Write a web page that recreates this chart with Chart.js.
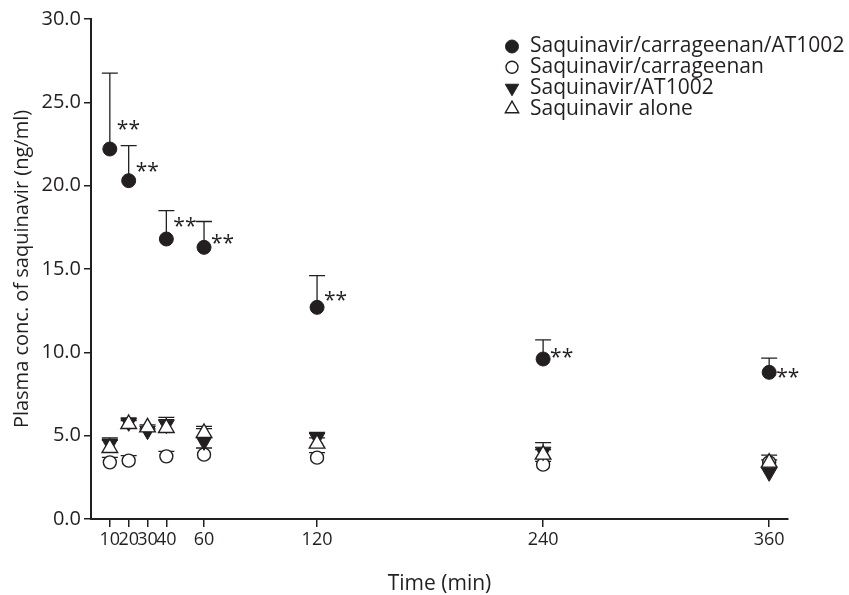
<!DOCTYPE html>
<html>
<head>
<meta charset="utf-8">
<script src="https://cdn.jsdelivr.net/npm/chart.js@4.4.1/dist/chart.umd.min.js"></script>
<style>
  html, body { margin: 0; padding: 0; background: #fff; }
  #wrap { width: 849px; height: 595px; position: relative; }
</style>
</head>
<body>
<div id="wrap"><canvas id="chart"></canvas></div>
<script>
const times = [10, 20, 30, 40, 60, 120, 240, 360];
const xTicks = [10, 20, 30, 40, 60, 120, 240, 360];
const yTicks = [0, 5, 10, 15, 20, 25, 30];

const seriesNames = ['Saquinavir/carrageenan/AT1002', 'Saquinavir/carrageenan', 'Saquinavir/AT1002', 'Saquinavir alone'];

// mean and upper SD (ng/ml), null = no point at that time
const carrAtMean = [22.2, 20.3, null, 16.8, 16.3, 12.7, 9.6, 8.8];
const carrAtSd   = [4.55, 2.1, null, 1.7, 1.55, 1.9, 1.15, 0.85];
const carrMean   = [3.4, 3.5, null, 3.76, 3.86, 3.68, 3.26, 3.4];
const carrSd     = [0.3, 0.3, null, 0.3, 0.4, 0.3, 0.2, 0.15];
const atMean     = [4.5, 5.8, 5.3, 5.66, 4.66, 4.89, 4.04, 2.8];
const atSd       = [0.36, 0.2, 0.1, 0.44, 0.76, 0.3, 0.54, 0.3];
const aloneMean  = [4.26, 5.7, 5.5, 5.46, 5.16, 4.52, 3.86, 3.38];
const aloneSd    = [0.46, 0.2, 0.15, 0.5, 0.4, 0.35, 0.3, 0.45];

// level of the "**" marks beside the carrageenan/AT1002 points
const starLevels = [23.7, 21.2, null, 17.9, 16.85, 13.45, 10.0, 8.85];

const ink = '#231f20';
Chart.defaults.font.family = '"Open Sans", "Noto Sans", sans-serif';
Chart.defaults.color = ink;

function series(vals) {
  return times.map(function (t, i) { return { x: t, y: vals[i] }; });
}

const errorBars = {
  id: 'errorBars',
  beforeDatasetsDraw(chart) {
    const ctx = chart.ctx;
    const xs = chart.scales.x, ys = chart.scales.y;
    ctx.save();
    ctx.strokeStyle = ink;
    ctx.lineWidth = 1.3;
    chart.data.datasets.forEach(function (ds) {
      ds.data.forEach(function (p, i) {
        const sd = ds.errors[i];
        if (p.y == null || sd == null) return;
        const px = xs.getPixelForValue(p.x);
        const y0 = ys.getPixelForValue(p.y);
        const y1 = ys.getPixelForValue(p.y + sd);
        ctx.beginPath();
        ctx.moveTo(px, y0);
        ctx.lineTo(px, y1);
        ctx.moveTo(px - 8, y1);
        ctx.lineTo(px + 8, y1);
        ctx.stroke();
      });
    });
    ctx.restore();
  }
};

const stars = {
  id: 'stars',
  afterDatasetsDraw(chart) {
    const ctx = chart.ctx;
    const xs = chart.scales.x, ys = chart.scales.y;
    ctx.save();
    ctx.font = '21px "Open Sans"';
    ctx.fillStyle = ink;
    ctx.textBaseline = 'alphabetic';
    starLevels.forEach(function (lv, i) {
      if (lv == null) return;
      ctx.fillText('**', xs.getPixelForValue(times[i]) + 7, ys.getPixelForValue(lv) + 12);
    });
    ctx.restore();
  }
};

const sideLegend = {
  id: 'sideLegend',
  afterDraw(chart) {
    const ctx = chart.ctx;
    ctx.save();
    ctx.font = '21px "Open Sans"';
    ctx.textBaseline = 'middle';
    chart.data.datasets.forEach(function (ds, i) {
      const yy = 46.5 + i * 20.8;
      ctx.fillStyle = ds.pointBackgroundColor;
      ctx.strokeStyle = ds.pointBorderColor;
      ctx.lineWidth = ds.pointBorderWidth;
      Chart.helpers.drawPoint(ctx, {
        pointStyle: ds.pointStyle,
        radius: ds.legendRadius,
        rotation: ds.pointRotation || 0,
        borderWidth: ds.pointBorderWidth
      }, 512, yy);
      ctx.fillStyle = ink;
      ctx.fillText(ds.label, 530, yy);
    });
    ctx.restore();
  }
};

const chart = new Chart(document.getElementById('chart'), {
  type: 'scatter',
  data: {
    datasets: [
      {
        label: seriesNames[0], data: series(carrAtMean), errors: carrAtSd,
        pointStyle: 'circle', pointRadius: 7, legendRadius: 6.5,
        pointBackgroundColor: ink, pointBorderColor: ink, pointBorderWidth: 1,
        order: 1
      },
      {
        label: seriesNames[1], data: series(carrMean), errors: carrSd,
        pointStyle: 'circle', pointRadius: 6.5, legendRadius: 6,
        pointBackgroundColor: '#fff', pointBorderColor: ink, pointBorderWidth: 1.4,
        order: 4
      },
      {
        label: seriesNames[2], data: series(atMean), errors: atSd,
        pointStyle: 'triangle', pointRotation: 180, pointRadius: 9, legendRadius: 7.7,
        pointBackgroundColor: ink, pointBorderColor: ink, pointBorderWidth: 1,
        order: 3
      },
      {
        label: seriesNames[3], data: series(aloneMean), errors: aloneSd,
        pointStyle: 'triangle', pointRadius: 9, legendRadius: 7.7,
        pointBackgroundColor: '#fff', pointBorderColor: ink, pointBorderWidth: 1.4,
        order: 2
      }
    ]
  },
  options: {
    responsive: true,
    maintainAspectRatio: false,
    animation: false,
    events: [],
    layout: { padding: { top: 19, right: 61, left: 0, bottom: 0 } },
    plugins: {
      legend: { display: false },
      tooltip: { enabled: false }
    },
    scales: {
      x: {
        type: 'linear',
        min: 0,
        max: 370,
        afterBuildTicks: function (scale) {
          scale.ticks = xTicks.map(function (v) { return { value: v }; });
        },
        afterFit: function (scale) { scale.height = 76; },
        ticks: {
          autoSkip: false, maxRotation: 0, padding: 2,
          font: { size: 18 },
          callback: function (v) { return String(v); }
        },
        grid: { drawOnChartArea: false, drawTicks: true, tickLength: 8, color: ink, lineWidth: 1.5 },
        border: { display: true, color: ink, width: 2 },
        title: {
          display: true, text: 'Time (min)', color: ink,
          font: { size: 21, lineHeight: 1 }, padding: { top: 0, bottom: 0 }
        }
      },
      y: {
        min: 0,
        max: 30,
        afterBuildTicks: function (scale) {
          scale.ticks = yTicks.map(function (v) { return { value: v }; });
        },
        afterFit: function (scale) { scale.width = 91; },
        ticks: {
          padding: 3,
          font: { size: 20 },
          callback: function (v) { return Number(v).toFixed(1); }
        },
        grid: { drawOnChartArea: false, drawTicks: true, tickLength: 7, color: ink, lineWidth: 1.5 },
        border: { display: true, color: ink, width: 2 },
        title: {
          display: true, text: 'Plasma conc. of saquinavir (ng/ml)', color: ink,
          font: { size: 20, lineHeight: 1 }, padding: { top: 12, bottom: 0 }
        }
      }
    }
  },
  plugins: [errorBars, stars, sideLegend]
});
</script>
</body>
</html>
